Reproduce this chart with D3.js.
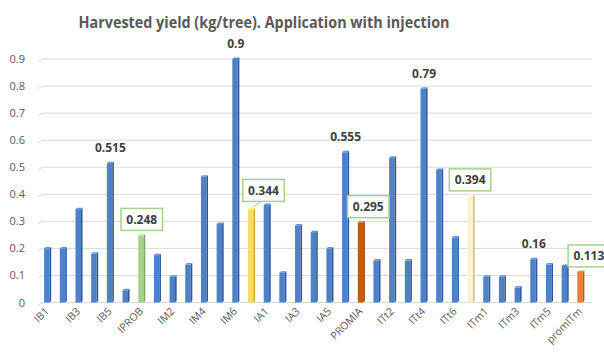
<!DOCTYPE html>
<html>
<head>
<meta charset="utf-8">
<script src="https://cdn.jsdelivr.net/npm/d3@7"></script>
<style>
  body { margin: 0; background: #fff; }
  text { font-family: "Open Sans", sans-serif; }
</style>
</head>
<body>
<div id="chart"></div>
<script>
const categories = ["IB1","IB2","IB3","IB4","IB5","IB6","IPROB",
  "IM1","IM2","IM3","IM4","IM5","IM6","PROMIM",
  "IA1","IA2","IA3","IA4","IA5","IA6","PROMIA",
  "ITt1","ITt2","ITt3","ITt4","ITt5","ITt6","PROMITt",
  "ITm1","ITm2","ITm3","ITm4","ITm5","ITm6","promITm"];
const values = [0.2,0.2,0.345,0.18,0.515,0.045,0.248,
  0.175,0.095,0.14,0.465,0.29,0.9,0.344,
  0.36,0.11,0.285,0.26,0.2,0.555,0.295,
  0.155,0.535,0.155,0.79,0.49,0.24,0.394,
  0.095,0.095,0.055,0.16,0.14,0.135,0.113];
const yTicks = [0,0.1,0.2,0.3,0.4,0.5,0.6,0.7,0.8,0.9];
// bars that are not the default blue
const special = {
  "IPROB":   {face: "#A9D18E", side: "#7FA866", dx: 0},
  "PROMIM":  {face: "#FFD966", side: "#C9A83F", dx: 12},
  "PROMIA":  {face: "#C55A11", side: "#8C3E0A", dx: 7},
  "PROMITt": {face: "#FFF2CC", side: "#C9BE9E", dx: -1},
  "promITm": {face: "#ED7D31", side: "#B85A1C", dx: 8}
};
// plain data labels shown above these bars
const plainLabels = ["IB5","IM6","IA6","ITt4","ITm4"];

const width = 604, height = 353;
const svg = d3.select("#chart").append("svg")
    .attr("width", width)
    .attr("height", height);

const x = d3.scaleBand().domain(categories).range([35.5, 593]).padding(0.55);
const y = d3.scaleLinear().domain([0, 0.9]).range([302.5, 59]);

// title (Calibri is narrow, so squeeze a bit)
svg.append("text")
    .attr("x", 264)
    .attr("y", 28)
    .attr("text-anchor", "middle")
    .attr("textLength", 371)
    .attr("lengthAdjust", "spacingAndGlyphs")
    .style("font-size", "16.5px")
    .style("font-weight", "bold")
    .attr("fill", "#595959")
    .text("Harvested yield (kg/tree). Application with injection");

// gridlines with small 3D slant at the left
const grid = svg.append("g");
yTicks.forEach(t => {
  const yy = y(t);
  grid.append("path")
      .attr("d", `M38,${yy + 2.5}L43,${yy}L592,${yy}`)
      .attr("fill", "none")
      .attr("stroke", "#D9D9D9")
      .attr("stroke-width", 1);
  grid.append("text")
      .attr("x", 25)
      .attr("y", yy + 4)
      .attr("text-anchor", "end")
      .style("font-size", "11px")
      .attr("fill", "#595959")
      .text(t === 0 ? "0" : d3.format(".1f")(t));
});

// bars
const bw = x.bandwidth();
const sideW = 1.6;
const faceW = bw - sideW;
const bars = svg.append("g");
categories.forEach((c, i) => {
  const s = special[c] || {face: "#4F81C8", side: "#2E5A9C"};
  const x0 = x(c);
  const yt = y(values[i]);
  const y0 = y(0);
  bars.append("rect")
      .attr("x", x0).attr("y", yt)
      .attr("width", faceW).attr("height", y0 - yt)
      .attr("fill", s.face);
  bars.append("path")
      .attr("d", `M${x0 + faceW},${yt}L${x0 + bw},${yt - 1.5}L${x0 + bw},${y0 - 1.5}L${x0 + faceW},${y0}Z`)
      .attr("fill", s.side);
  bars.append("path")
      .attr("d", `M${x0},${yt}L${x0 + sideW},${yt - 1.5}L${x0 + bw},${yt - 1.5}L${x0 + faceW},${yt}Z`)
      .attr("fill", d3.color(s.face).brighter(0.4));
});

// x labels, every other category
const xl = svg.append("g");
categories.forEach((c, i) => {
  if (i % 2 !== 0) return;
  const cx = x(c) + bw / 2;
  xl.append("text")
      .attr("transform", `translate(${cx + 2},${312}) rotate(-45)`)
      .attr("text-anchor", "end")
      .style("font-size", "10.5px")
      .attr("fill", "#595959")
      .text(c);
});

// data labels
const labels = svg.append("g");
categories.forEach((c, i) => {
  const cx = x(c) + bw / 2;
  const yt = y(values[i]);
  const txt = String(values[i]);
  if (plainLabels.includes(c)) {
    labels.append("text")
        .attr("x", cx).attr("y", yt - 11)
        .attr("text-anchor", "middle")
        .style("font-size", "12px")
        .style("font-weight", "bold")
        .attr("fill", "#404040")
        .text(txt);
  } else if (special[c]) {
    const bx = cx + special[c].dx;
    const boxH = 22, boxW = 41.5;
    const by = yt - 5 - boxH - (c === "PROMIM" ? 3 : 0);
    if (c === "PROMIM") {
      labels.append("line")
          .attr("x1", cx + 1).attr("y1", yt - 2)
          .attr("x2", bx - 2).attr("y2", by + boxH)
          .attr("stroke", "#BFBFBF");
    }
    labels.append("rect")
        .attr("x", bx - boxW / 2).attr("y", by)
        .attr("width", boxW).attr("height", boxH)
        .attr("fill", "#fff")
        .attr("stroke", "#A9D18E")
        .attr("stroke-width", 1.5);
    labels.append("text")
        .attr("x", bx).attr("y", by + 15.5)
        .attr("text-anchor", "middle")
        .style("font-size", "12px")
        .style("font-weight", "bold")
        .attr("fill", "#404040")
        .text(txt);
  }
});
</script>
</body>
</html>
